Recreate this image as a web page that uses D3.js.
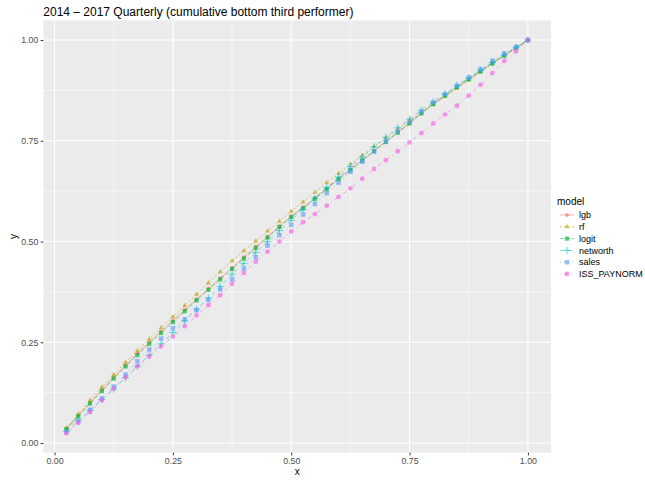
<!DOCTYPE html>
<html>
<head>
<meta charset="utf-8">
<script src="https://cdn.jsdelivr.net/npm/d3@7"></script>
<style>
  body { margin: 0; background: #fff; overflow: hidden; }
  text { font-family: "Liberation Sans", Arial, sans-serif; }
</style>
</head>
<body>
<div id="chart"></div>
<script>
// x positions (quantile steps)
var xs = d3.range(1, 41).map(function(k) { return k / 40; });

var models = ["lgb", "rf", "logit", "networth", "sales", "ISS_PAYNORM"];

var lgb = [0.035, 0.068, 0.100, 0.132, 0.163, 0.193, 0.222, 0.250, 0.277, 0.304,
  0.331, 0.357, 0.383, 0.409, 0.435, 0.461, 0.487, 0.512, 0.538, 0.563,
  0.585, 0.608, 0.632, 0.656, 0.679, 0.702, 0.725, 0.748, 0.771, 0.794,
  0.818, 0.841, 0.862, 0.883, 0.903, 0.923, 0.943, 0.962, 0.981, 1.000];
var rf = [0.038, 0.072, 0.106, 0.139, 0.170, 0.200, 0.229, 0.258, 0.286, 0.313,
  0.341, 0.369, 0.397, 0.425, 0.452, 0.477, 0.501, 0.526, 0.550, 0.575,
  0.598, 0.622, 0.646, 0.669, 0.692, 0.714, 0.736, 0.757, 0.778, 0.800,
  0.820, 0.840, 0.860, 0.880, 0.900, 0.920, 0.940, 0.960, 0.980, 1.000];
var logit = [0.034, 0.066, 0.098, 0.129, 0.160, 0.190, 0.218, 0.246, 0.273, 0.300,
  0.327, 0.354, 0.380, 0.406, 0.432, 0.458, 0.484, 0.510, 0.536, 0.561,
  0.582, 0.606, 0.630, 0.655, 0.677, 0.701, 0.724, 0.747, 0.770, 0.793,
  0.818, 0.841, 0.862, 0.883, 0.903, 0.923, 0.943, 0.962, 0.981, 1.000];
var networth = [0.029, 0.055, 0.081, 0.108, 0.134, 0.162, 0.190, 0.218, 0.246, 0.274,
  0.303, 0.332, 0.360, 0.389, 0.419, 0.446, 0.473, 0.500, 0.527, 0.553,
  0.580, 0.607, 0.634, 0.660, 0.686, 0.710, 0.735, 0.759, 0.782, 0.804,
  0.826, 0.847, 0.867, 0.887, 0.906, 0.925, 0.944, 0.963, 0.981, 1.000];
var sales = [0.027, 0.054, 0.082, 0.110, 0.140, 0.170, 0.203, 0.232, 0.259, 0.285,
  0.307, 0.330, 0.355, 0.381, 0.406, 0.433, 0.461, 0.490, 0.516, 0.541,
  0.567, 0.593, 0.620, 0.646, 0.673, 0.698, 0.723, 0.749, 0.773, 0.797,
  0.822, 0.845, 0.866, 0.887, 0.907, 0.928, 0.949, 0.967, 0.983, 1.000];
var iss = [0.024, 0.050, 0.077, 0.106, 0.135, 0.163, 0.191, 0.215, 0.240, 0.264,
  0.290, 0.317, 0.342, 0.367, 0.395, 0.422, 0.450, 0.475, 0.500, 0.525,
  0.548, 0.568, 0.589, 0.611, 0.632, 0.656, 0.680, 0.702, 0.724, 0.746,
  0.769, 0.793, 0.815, 0.837, 0.862, 0.889, 0.918, 0.948, 0.972, 1.000];

var ticks = [0, 0.25, 0.5, 0.75, 1];
var tickLabels = ["0.00", "0.25", "0.50", "0.75", "1.00"];

var allY = [lgb, rf, logit, networth, sales, iss];

// ggplot default hue palette
var color = d3.scaleOrdinal()
  .domain(models)
  .range(["#F8766D", "#B79F00", "#00BA38", "#00BFC4", "#619CFF", "#F564E3"]);

// ggplot linetypes 1..6 (times line width ~1px)
var dashes = d3.scaleOrdinal()
  .domain(models)
  .range(["none", "2,2", "4,2", "4,4", "1,3", "1,3,4,3"]);

var width = 645, height = 481;
var panelL = 43.3, panelR = 551, panelT = 20.4, panelB = 452.6;

var svg = d3.select("#chart").append("svg")
  .attr("width", width)
  .attr("height", height)
  .style("display", "block");

// 5% expansion like ggplot
var lo = 0.025, hi = 1, pad = (hi - lo) * 0.05;
var x = d3.scaleLinear().domain([lo - pad, hi + pad]).range([panelL, panelR]);
var y = d3.scaleLinear().domain([lo - pad, hi + pad]).range([panelB, panelT]);

// panel background
svg.append("rect")
  .attr("x", panelL).attr("y", panelT)
  .attr("width", panelR - panelL).attr("height", panelB - panelT)
  .style("fill", "#EBEBEB");

// minor grid
var minor = [0.125, 0.375, 0.625, 0.875];
svg.selectAll(".minorx").data(minor).enter().append("line")
  .attr("x1", d => x(d)).attr("x2", d => x(d))
  .attr("y1", panelT).attr("y2", panelB)
  .style("stroke", "#fff").style("stroke-width", 0.55);
svg.selectAll(".minory").data(minor).enter().append("line")
  .attr("y1", d => y(d)).attr("y2", d => y(d))
  .attr("x1", panelL).attr("x2", panelR)
  .style("stroke", "#fff").style("stroke-width", 0.55);

// major grid
svg.selectAll(".majorx").data(ticks).enter().append("line")
  .attr("x1", d => x(d)).attr("x2", d => x(d))
  .attr("y1", panelT).attr("y2", panelB)
  .style("stroke", "#fff").style("stroke-width", 1.1);
svg.selectAll(".majory").data(ticks).enter().append("line")
  .attr("y1", d => y(d)).attr("y2", d => y(d))
  .attr("x1", panelL).attr("x2", panelR)
  .style("stroke", "#fff").style("stroke-width", 1.1);

// axes
var xAxis = d3.axisBottom(x).tickValues(ticks)
  .tickFormat((d, i) => tickLabels[i]).tickSize(2.7).tickPadding(2.2);
var yAxis = d3.axisLeft(y).tickValues(ticks)
  .tickFormat((d, i) => tickLabels[i]).tickSize(2.7).tickPadding(2.2);

var gx = svg.append("g").attr("transform", "translate(0," + panelB + ")").call(xAxis);
var gy = svg.append("g").attr("transform", "translate(" + panelL + ",0)").call(yAxis);
[gx, gy].forEach(function(g) {
  g.select(".domain").remove();
  g.selectAll(".tick line").style("stroke", "#333333").style("stroke-width", 1);
  g.selectAll(".tick text").style("fill", "#4D4D4D")
    .style("font-size", "8.8px")
    .style("font-family", "Liberation Sans, Arial, sans-serif");
});

// symbols
function symbolFor(name) {
  var s = {
    "lgb": d3.symbolCircle,
    "rf": d3.symbolTriangle,
    "logit": d3.symbolSquare,
    "networth": d3.symbolPlus,
    "sales": d3.symbolSquare,
    "ISS_PAYNORM": d3.symbolCircle
  }[name];
  return s;
}
var sizes = { "lgb": 12, "rf": 10, "logit": 18, "networth": 18, "sales": 20, "ISS_PAYNORM": 18 };

function drawPoint(g, name, px, py) {
  var c = color(name);
  var p = g.append("path")
    .attr("transform", "translate(" + px + "," + py + ")")
    .attr("d", d3.symbol().type(symbolFor(name)).size(sizes[name])());
  if (name === "networth") {
    p.style("fill", "none").style("stroke", c).style("stroke-width", 1);
  } else {
    p.style("fill", c);
  }
  p.style("opacity", 0.65);
}

var line = d3.line()
  .x(d => x(d[0]))
  .y(d => y(d[1]));

var plot = svg.append("g");
models.forEach(function(name, i) {
  var pts = xs.map((v, j) => [v, allY[i][j]]);
  plot.append("path")
    .datum(pts)
    .attr("d", line)
    .style("fill", "none")
    .style("stroke", color(name))
    .style("stroke-width", 1)
    .style("stroke-dasharray", dashes(name))
    .style("opacity", 0.55);
  var g = plot.append("g");
  pts.forEach(function(p) { drawPoint(g, name, x(p[0]), y(p[1])); });
});

// title
svg.append("text")
  .attr("x", panelL).attr("y", 15.5)
  .style("font-size", "12px").style("fill", "#000")
  .text("2014 \u2013 2017 Quarterly (cumulative bottom third performer)");

// axis titles
svg.append("text")
  .attr("x", (panelL + panelR) / 2).attr("y", 475)
  .attr("text-anchor", "middle")
  .style("font-size", "10px")
  .text("x");
svg.append("text")
  .attr("transform", "translate(17," + ((panelT + panelB) / 2) + ") rotate(-90)")
  .attr("text-anchor", "middle")
  .style("font-size", "10px")
  .text("y");

// legend
var legend = svg.append("g").attr("transform", "translate(557,0)");
legend.append("text")
  .attr("x", 0).attr("y", 205)
  .style("font-size", "10px")
  .text("model");
models.forEach(function(name, i) {
  var cy = 215 + i * 11.8;
  legend.append("line")
    .attr("x1", 3).attr("x2", 17).attr("y1", cy).attr("y2", cy)
    .style("stroke", color(name)).style("stroke-width", 1)
    .style("stroke-dasharray", dashes(name))
    .style("opacity", 0.55);
  drawPoint(legend, name, 10, cy);
  legend.append("text")
    .attr("x", 22).attr("y", cy).attr("dy", "0.35em")
    .style("font-size", "9px")
    .text(name);
});
</script>
</body>
</html>
